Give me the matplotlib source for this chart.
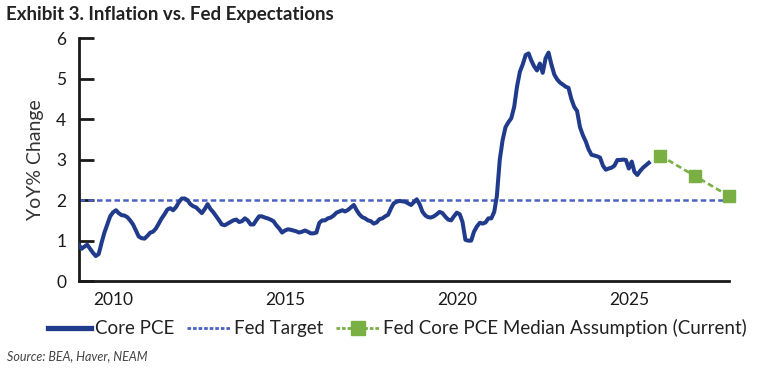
import numpy as np
import pandas as pd
import matplotlib
matplotlib.use("Agg")
import matplotlib.pyplot as plt
from matplotlib.lines import Line2D

# Core PCE YoY % change, monthly Jan 2009 - Aug 2025
core_2009 = [0.9, 0.8, 0.85, 0.9, 0.8, 0.7, 0.62, 0.67, 0.95, 1.2, 1.4, 1.6]
core_2010 = [1.7, 1.75, 1.68, 1.63, 1.62, 1.58, 1.5, 1.4, 1.25, 1.1, 1.06, 1.05]
core_2011 = [1.12, 1.2, 1.22, 1.3, 1.42, 1.55, 1.65, 1.77, 1.8, 1.75, 1.83, 1.95]
core_2012 = [2.04, 2.04, 2.0, 1.9, 1.85, 1.82, 1.75, 1.68, 1.78, 1.9, 1.78, 1.7]
core_2013 = [1.6, 1.5, 1.4, 1.38, 1.42, 1.46, 1.5, 1.52, 1.46, 1.48, 1.55, 1.5]
core_2014 = [1.4, 1.4, 1.5, 1.6, 1.6, 1.57, 1.55, 1.52, 1.48, 1.38, 1.3, 1.2]
core_2015 = [1.25, 1.28, 1.27, 1.25, 1.23, 1.2, 1.22, 1.25, 1.22, 1.18, 1.18, 1.2]
core_2016 = [1.44, 1.5, 1.5, 1.55, 1.57, 1.62, 1.69, 1.72, 1.75, 1.72, 1.76, 1.82]
core_2017 = [1.88, 1.75, 1.65, 1.58, 1.55, 1.5, 1.48, 1.42, 1.45, 1.53, 1.55, 1.6]
core_2018 = [1.64, 1.8, 1.92, 1.96, 1.98, 1.97, 1.96, 1.92, 1.88, 1.95, 2.02, 1.9]
core_2019 = [1.71, 1.62, 1.58, 1.57, 1.6, 1.65, 1.71, 1.68, 1.59, 1.52, 1.5, 1.6]
core_2020 = [1.69, 1.65, 1.46, 1.02, 1.0, 1.0, 1.22, 1.35, 1.44, 1.42, 1.45, 1.55]
core_2021 = [1.55, 1.71, 2.1, 3.0, 3.48, 3.8, 3.92, 4.02, 4.3, 4.8, 5.17, 5.35]
core_2022 = [5.58, 5.62, 5.45, 5.3, 5.2, 5.37, 5.14, 5.5, 5.64, 5.35, 5.1, 4.98]
core_2023 = [4.9, 4.85, 4.8, 4.77, 4.5, 4.3, 4.2, 3.8, 3.6, 3.45, 3.25, 3.12]
core_2024 = [3.1, 3.08, 3.05, 2.85, 2.75, 2.78, 2.8, 2.85, 2.99, 2.99, 3.0, 2.99]
core_2025 = [2.78, 2.95, 2.7, 2.62, 2.72, 2.8, 2.86, 2.92]

core_pce = (core_2009 + core_2010 + core_2011 + core_2012 + core_2013 + core_2014
            + core_2015 + core_2016 + core_2017 + core_2018 + core_2019 + core_2020
            + core_2021 + core_2022 + core_2023 + core_2024 + core_2025)
core_dates = pd.date_range("2009-01-01", periods=len(core_pce), freq="MS")

fed_target = 2.0

# Fed SEP median core PCE (year-end)
sep_dates = pd.to_datetime(["2025-12-01", "2026-12-01", "2027-12-01"])
sep_values = [3.1, 2.6, 2.1]

plt.rcParams['font.family'] = ['Lato', 'DejaVu Sans']

fig = plt.figure(figsize=(7.57, 3.69), dpi=100)
ax = fig.add_axes([0.104, 0.238, 0.859, 0.659])

navy = '#213b8c'
blue = '#4a62c4'
green = '#7aaf44'

ax.axhline(fed_target, color=blue, lw=1.8, ls=(0, (2.2, 1.3)), zorder=2)
ax.plot(core_dates, core_pce, color=navy, lw=2.9, zorder=3, solid_joinstyle='round')
ax.plot(sep_dates, sep_values, color=green, lw=1.9, ls=(0, (2.2, 1.3)),
        marker='s', markersize=9, zorder=4, clip_on=False)

ax.set_ylim(0, 6)
ax.set_xlim(pd.Timestamp("2009-01-01"), pd.Timestamp("2027-12-01"))
ax.set_yticks(range(0, 7))
ax.set_xticks(pd.to_datetime(["2010-01-01", "2015-01-01", "2020-01-01", "2025-01-01"]))
ax.set_xticklabels(["2010", "2015", "2020", "2025"])

for s in ['top', 'right']:
    ax.spines[s].set_visible(False)
for s in ['left', 'bottom']:
    ax.spines[s].set_linewidth(2)
    ax.spines[s].set_color('#1a1a1a')

ax.tick_params(axis='y', direction='in', length=11, width=2, pad=9, labelsize=12.5, colors='#1a1a1a')
ax.tick_params(axis='x', length=0, pad=8, labelsize=12.5, colors='#1a1a1a')
ax.set_ylabel('YoY% Change', fontsize=14, color='#333333', labelpad=9)

fig.text(0.008, 0.96, 'Exhibit 3. Inflation vs. Fed Expectations', fontsize=13.5,
         fontweight='bold', color='#222222', va='center')
fig.text(0.009, 0.035, 'Source: BEA, Haver, NEAM', fontsize=9, style='italic',
         color='#444444', va='center')

handles = [
    Line2D([], [], color=navy, lw=3.8),
    Line2D([], [], color=blue, lw=2, ls=(0, (1.3, 0.7))),
    Line2D([], [], color=green, lw=2, ls=(0, (1.3, 0.7)), marker='s', markersize=10),
]
labels = ['Core PCE', 'Fed Target', 'Fed Core PCE Median Assumption (Current)']
fig.legend(handles, labels, loc='center', bbox_to_anchor=(0.525, 0.111), ncol=3,
           frameon=False, fontsize=13.5, handlelength=2.3, handletextpad=0.2,
           columnspacing=0.7, labelcolor='#222222')

fig.savefig('out.png', dpi=100)
